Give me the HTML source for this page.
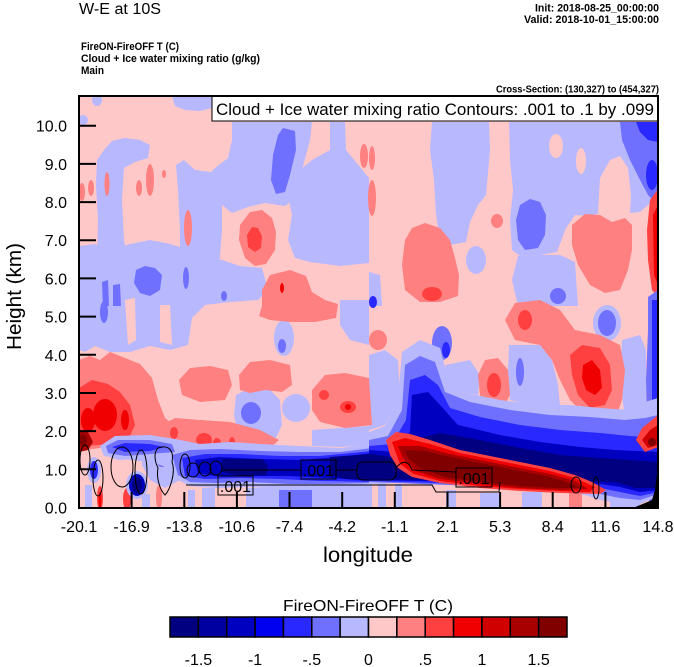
<!DOCTYPE html>
<html><head><meta charset="utf-8">
<style>
html,body{margin:0;padding:0;background:#fff;}
svg{display:block;}
text{font-family:"Liberation Sans",Arial,Helvetica,sans-serif;fill:#000;}
</style></head><body>
<svg width="674" height="667" viewBox="0 0 674 667" xmlns="http://www.w3.org/2000/svg">
<defs><clipPath id="pc"><rect x="79" y="96" width="579" height="412"/></clipPath></defs>

<!-- header texts -->
<text x="79" y="14" font-size="15.5" textLength="82" lengthAdjust="spacingAndGlyphs">W-E at 10S</text>
<text x="659" y="11.5" font-size="11" font-weight="bold" text-anchor="end" textLength="124" lengthAdjust="spacingAndGlyphs">Init: 2018-08-25_00:00:00</text>
<text x="659" y="23" font-size="11" font-weight="bold" text-anchor="end" textLength="135" lengthAdjust="spacingAndGlyphs">Valid: 2018-10-01_15:00:00</text>
<text x="81" y="50" font-size="11" font-weight="bold" textLength="98" lengthAdjust="spacingAndGlyphs">FireON-FireOFF T   (C)</text>
<text x="81" y="62" font-size="11" font-weight="bold" textLength="179" lengthAdjust="spacingAndGlyphs">Cloud + Ice water mixing ratio   (g/kg)</text>
<text x="81" y="74" font-size="11" font-weight="bold" textLength="23" lengthAdjust="spacingAndGlyphs">Main</text>
<text x="659" y="92.5" font-size="10" font-weight="bold" text-anchor="end" textLength="163" lengthAdjust="spacingAndGlyphs">Cross-Section: (130,327) to (454,327)</text>

<g clip-path="url(#pc)">
<rect x="79" y="96" width="579" height="412" fill="#ffc8c8"/>

<!-- light blue regions -->
<g fill="#b8b8ff">
<ellipse cx="97" cy="100" rx="5" ry="6"/>
<polygon points="172,96 212,96 212,108 200,111 185,110 175,106"/>
<ellipse cx="83" cy="120" rx="5" ry="5"/>
<polygon points="97,160 104,150 112,141 125,138 140,140 150,145 148,158 135,162 124,168 122,200 124,240 128,262 97,262 98,220 96,185"/>
<polygon points="176,165 184,160 195,170 210,172 222,180 222,230 219,269 200,272 180,268 180,230 178,190"/>
<polygon points="232,122 312,122 310,140 302,170 296,198 285,206 265,203 248,207 232,213 222,205 215,190 205,178 215,168 228,158 232,140"/>
<polygon points="286,176 300,170 312,160 330,150 330,122 345,122 346,150 369,178 369,263 340,266 310,262 295,258 288,240 292,215 288,195"/>
<polygon points="79,246 95,244 110,250 130,244 150,240 170,244 190,250 205,258 222,260 240,266 262,268 268,290 258,300 230,302 205,305 192,318 188,345 170,350 150,346 130,352 110,352 95,346 85,352 79,350"/>
<ellipse cx="284" cy="338" rx="10" ry="18"/>
<polygon points="340,300 369,300 369,345 350,340 340,325"/>
<polygon points="432,122 489,122 490,150 486,195 478,205 470,222 466,242 450,245 440,240 436,215 434,180 430,150"/>
<polygon points="509,122 658,122 658,200 648,205 640,212 632,213 620,212 600,213 590,216 575,215 566,228 557,252 540,255 520,256 512,250 510,220 513,190 510,160"/>
<polygon points="518,256 540,255 560,255 575,262 578,306 518,306 512,280"/>
<ellipse cx="476" cy="260" rx="10" ry="14"/>
<polygon points="369,272 380,275 382,306 369,306"/>
<ellipse cx="607" cy="323" rx="14" ry="18"/>
<polygon points="445,365 470,360 480,375 478,395 462,392 448,380"/>
<polygon points="509,345 540,345 552,360 558,385 560,405 530,405 510,400 508,370"/>
<polygon points="622,340 640,335 646,350 646,415 625,418 620,380"/>
<polygon points="369,355 385,350 398,360 400,395 385,425 369,430"/>
<polygon points="236,395 250,388 270,390 280,400 282,425 275,440 255,442 238,435 234,415"/>
<ellipse cx="296" cy="408" rx="14" ry="14"/>
<polygon points="312,430 340,428 369,426 369,445 340,447 312,446"/>
<!-- bottom strip -->
<polygon points="246,488 372,484 372,508 246,508"/>
<rect x="202" y="488" width="13" height="20"/>
<rect x="188" y="490" width="7" height="18"/>
<rect x="85" y="485" width="7" height="23"/>
<rect x="142" y="494" width="8" height="14"/>
<rect x="378" y="484" width="8" height="24"/>
<rect x="395" y="484" width="7" height="24"/>
<rect x="446" y="490" width="10" height="18"/>
<rect x="480" y="493" width="20" height="15"/>
<rect x="522" y="492" width="20" height="16"/>
<rect x="610" y="500" width="30" height="8"/>
</g>

<!-- pink streaks -->
<g fill="#ffc8c8">
<ellipse cx="556" cy="146" rx="7" ry="12"/>
<ellipse cx="581" cy="161" rx="5" ry="13"/>
<polygon points="598,213 600,178 610,160 620,156 628,168 631,195 630,213"/>
<polygon points="125,300 135,298 136,340 128,345"/>
<polygon points="160,305 170,305 172,345 160,342"/>
</g>

<!-- medium blue -->
<g fill="#7070ff">
<polygon points="283,128 295,131 296,150 290,175 285,192 276,194 271,180 273,155 278,135"/>
<polygon points="136,270 145,266 155,268 162,275 160,290 150,296 140,293 134,283"/>
<polygon points="102,282 108,280 109,306 103,306"/>
<polygon points="113,285 120,284 121,306 113,306"/>
<ellipse cx="186" cy="278" rx="3" ry="11"/>
<ellipse cx="224" cy="296" rx="3" ry="5"/>
<ellipse cx="104" cy="312" rx="4" ry="11"/>
<polygon points="620,122 658,122 658,205 648,195 640,180 630,160 622,140"/>
<polygon points="520,205 530,199 540,202 546,215 545,235 538,248 525,250 518,240 516,220"/>
<ellipse cx="558" cy="296" rx="8" ry="8"/>
<ellipse cx="442" cy="343" rx="10" ry="17"/>
<ellipse cx="607" cy="323" rx="9" ry="13"/>
<ellipse cx="282" cy="346" rx="4" ry="7"/>
<ellipse cx="251" cy="413" rx="10" ry="11"/>
<ellipse cx="520" cy="372" rx="4" ry="14"/>
<polygon points="279,490 312,490 312,508 279,508"/>
</g>
<g fill="#2828ff">
<polygon points="636,122 658,122 658,142 648,140 640,132"/>
<ellipse cx="652" cy="175" rx="6" ry="15"/>
<ellipse cx="446" cy="350" rx="4" ry="8"/>
<ellipse cx="373" cy="302" rx="4" ry="6"/>
</g>

<!-- salmon / reds upper -->
<g fill="#ff8080">
<polygon points="240,225 250,212 262,210 272,218 276,232 275,250 266,264 255,266 245,258 239,240"/>
<polygon points="262,306 262,290 270,275 290,270 306,276 312,292 325,300 338,304 336,318 315,322 290,322 270,320 259,316"/>
<ellipse cx="82" cy="192" rx="3" ry="9"/>
<ellipse cx="91" cy="188" rx="3" ry="8"/>
<ellipse cx="107" cy="184" rx="2.5" ry="12"/>
<ellipse cx="139" cy="188" rx="3" ry="8"/>
<ellipse cx="150" cy="180" rx="4" ry="16"/>
<ellipse cx="164" cy="174" rx="2" ry="4"/>
<ellipse cx="188" cy="228" rx="4" ry="18"/>
<ellipse cx="364" cy="156" rx="4" ry="12"/>
<ellipse cx="372" cy="158" rx="3" ry="12"/>
<ellipse cx="372" cy="198" rx="4" ry="18"/>
<ellipse cx="497" cy="221" rx="6" ry="7"/>
<polygon points="405,240 412,228 425,223 440,228 450,240 455,258 459,275 458,296 440,302 420,302 405,290 402,265"/>
<polygon points="572,225 585,214 600,215 612,222 625,218 632,225 632,250 628,270 620,290 605,293 590,285 578,265 572,245"/>
<polygon points="505,320 515,303 540,300 560,310 575,330 600,335 620,345 625,370 622,400 615,420 600,425 585,415 570,400 560,380 552,360 540,345 515,340"/>
<polygon points="478,375 485,360 498,358 508,370 510,395 503,408 488,408 480,395"/>
<ellipse cx="378" cy="340" rx="9" ry="10"/>
<!-- lower-left salmon -->
<polygon points="239,375 250,362 270,360 290,365 292,385 282,392 265,390 250,393 240,390"/>
<polygon points="179,380 190,368 210,366 228,370 232,385 225,400 200,402 182,395"/>
<polygon points="162,425 175,418 200,420 230,422 260,430 279,440 270,448 240,450 200,448 170,446 162,438"/>
<polygon points="312,390 325,375 345,373 369,378 372,425 345,428 320,422 312,410"/>
<polygon points="79,360 90,356 100,360 110,352 125,358 140,364 152,378 158,400 165,418 180,430 175,440 150,444 120,446 100,448 85,450 79,450"/>
<ellipse cx="159" cy="497" rx="3" ry="12"/>
<rect x="569" y="493" width="13" height="15"/>
</g>
<g fill="#ff4040">
<polygon points="247,235 252,227 258,228 262,236 261,248 255,252 248,247"/>
<ellipse cx="432" cy="294" rx="10" ry="7"/>
<ellipse cx="525" cy="320" rx="7" ry="10"/>
<polygon points="570,355 582,345 600,348 610,365 612,390 605,405 590,408 578,395 572,375"/>
<ellipse cx="494" cy="385" rx="7" ry="12"/>
<ellipse cx="204" cy="440" rx="8" ry="7"/>
<ellipse cx="217" cy="443" rx="4" ry="5"/>
<ellipse cx="232" cy="442" rx="3" ry="5"/>
<ellipse cx="174" cy="433" rx="4" ry="6"/>
<ellipse cx="324" cy="395" rx="5" ry="5"/>
<ellipse cx="348" cy="407" rx="8" ry="6"/>
<polygon points="79,388 92,380 108,384 120,392 130,405 135,425 128,440 100,445 79,446"/>
<ellipse cx="100" cy="498" rx="3" ry="12"/>
<ellipse cx="127" cy="499" rx="4" ry="11"/>
<polygon points="650,200 656,192 658,188 658,297 652,290 648,260 647,230"/>
</g>
<g fill="#f00000">
<ellipse cx="282" cy="288" rx="2" ry="5"/>
<polygon points="583,365 592,360 600,370 602,388 595,395 586,390 582,378"/>
<ellipse cx="348" cy="407" rx="3" ry="3"/>
<ellipse cx="105" cy="415" rx="12" ry="16"/>
<ellipse cx="88" cy="420" rx="7" ry="12"/>
<ellipse cx="125" cy="420" rx="4" ry="10"/>
<ellipse cx="100" cy="500" rx="1.5" ry="8"/>
<polygon points="653,215 658,205 658,285 654,275"/>
</g>
<polygon points="79,430 88,432 93,442 88,450 79,452" fill="#a80000"/>
<ellipse cx="83" cy="440" rx="4" ry="6" fill="#800000"/>

<!-- right edge blue strip -->
<polygon points="648,297 658,290 658,508 650,508 646,470 647,430 646,380 648,330" fill="#7070ff"/>
<polygon points="652,300 658,300 658,470 652,460" fill="#2828ff"/>

<!-- left blue blobs -->
<ellipse cx="121" cy="450" rx="14" ry="10" fill="#b8b8ff"/>
<ellipse cx="94" cy="470" rx="7" ry="13" fill="#b8b8ff"/>
<ellipse cx="94" cy="470" rx="4" ry="9" fill="#2828ff"/>
<ellipse cx="137" cy="485" rx="11" ry="14" fill="#b8b8ff"/>
<ellipse cx="137" cy="485" rx="8" ry="11" fill="#0000c0"/>
<ellipse cx="137" cy="485" rx="5" ry="8" fill="#000080"/>
<polygon points="140,440 178,440 180,480 165,488 150,480 142,465" fill="#b8b8ff"/>
<ellipse cx="162" cy="460" rx="6" ry="7" fill="#7070ff"/>

<!-- left blue band -->
<polygon fill="#b8b8ff" points="100,446 115,436 150,435 175,439 200,444 230,442 260,444 300,446 340,448 372,444 372,484 330,486 290,488 250,487 215,488 190,486 178,480 170,468 150,462 130,460 104,456"/>
<polygon fill="#7070ff" points="106,446 118,440 150,440 172,444 175,452 150,454 125,456 108,453"/>
<polygon fill="#2828ff" points="112,447 125,443 150,444 165,447 150,451 125,452"/>
<polygon fill="#7070ff" points="172,455 190,450 220,449 260,451 300,452 340,452 372,448 372,483 330,484 290,484 250,482 215,483 190,482 178,475"/>
<polygon fill="#2828ff" points="182,458 205,454 240,454 280,456 320,456 372,451 372,482 320,481 280,479 240,478 205,479 185,476"/>
<polygon fill="#0000c0" points="195,460 220,457 260,459 300,460 340,457 372,453 372,481 330,478 290,476 250,476 215,476 198,473"/>
<polygon fill="#000080" points="222,459 262,459 268,466 266,475 240,476 222,472"/>
<polygon fill="#000080" points="330,457 372,454 372,480 345,479 330,474"/>

<!-- right blue band -->
<polygon fill="#b8b8ff" points="369,432 385,426 398,398 402,352 420,340 440,348 448,378 462,392 500,400 540,405 570,405 600,408 630,410 645,402 658,398 658,496 645,502 635,506 620,503 600,500 585,495 560,490 480,486 420,480 400,482 385,484 369,484"/>
<polygon fill="#7070ff" points="369,440 388,436 402,410 405,365 420,356 435,362 445,392 470,402 510,410 550,415 590,417 625,420 645,418 658,415 658,494 640,500 620,498 600,494 580,490 369,482"/>
<polygon fill="#2828ff" points="369,446 392,444 406,420 410,380 425,375 438,385 450,408 480,417 520,425 560,430 600,433 630,436 658,438 658,492 640,496 620,492 600,488 369,481"/>
<polygon fill="#0000c0" points="369,450 395,452 410,432 412,395 428,392 440,405 458,425 500,435 540,442 580,447 615,450 658,452 658,490 640,492 620,487 600,484 369,480"/>
<polygon fill="#000080" points="369,454 398,458 412,440 440,433 480,440 520,448 560,455 600,458 630,460 658,462 658,488 636,488 615,482 369,479"/>

<!-- red band -->
<polygon fill="#ff4040" points="386,440 396,432 410,434 430,440 460,450 490,456 520,462 550,468 575,475 592,482 606,490 600,494 560,493 520,491 480,488 440,483 412,477 398,468 390,455"/>
<polygon fill="#f00000" points="392,442 405,438 430,444 460,453 490,459 520,465 550,471 575,478 595,487 590,492 560,491 520,489 480,486 440,481 414,474 400,464"/>
<polygon fill="#a80000" points="398,446 420,446 450,454 490,462 520,468 550,474 575,481 588,489 560,490 520,488 480,484 440,479 416,471 404,460"/>
<polygon fill="#800000" points="405,450 425,451 455,458 490,465 520,471 550,477 572,484 580,488 555,488 520,486 480,482 445,477 420,468 408,458"/>

<!-- right red blob -->
<polygon fill="#ff4040" points="636,440 642,428 652,420 658,415 658,447 645,452"/>
<polygon fill="#d00000" points="642,440 650,430 658,425 658,445 648,448"/>
<ellipse cx="652" cy="442" rx="4" ry="4" fill="#800000"/>

<!-- terrain -->
<polygon fill="#000" points="633,508 645,503 652,500 655,490 658,465 658,508"/>

<!-- contour lines -->
<g fill="none" stroke="#000" stroke-width="1">
<ellipse cx="85" cy="460" rx="5" ry="15"/>
<ellipse cx="98" cy="478" rx="5" ry="18"/>
<ellipse cx="122" cy="467" rx="11" ry="20"/>
<ellipse cx="141" cy="472" rx="6" ry="22"/>
<path d="M158,448 C170,444 174,452 172,462 C176,472 170,490 165,495 C160,490 156,478 158,468 C154,460 154,452 158,448 Z"/>
<ellipse cx="185" cy="466" rx="5" ry="12"/>
<ellipse cx="193" cy="470" rx="6" ry="7"/>
<ellipse cx="205" cy="469" rx="6" ry="7"/>
<ellipse cx="216" cy="468" rx="6" ry="7"/>
<path d="M222,470 L301,470 M336,470 L357,470"/>
<rect x="357" y="462" width="39" height="18" rx="6"/>
<path d="M396,468 C402,460 408,460 412,470 L456,472"/>
<path d="M186,485 L369,485 L432,485 L436,492 L499,492 L500,482"/>
<ellipse cx="576" cy="485" rx="5" ry="8"/>
<ellipse cx="596" cy="488" rx="3" ry="11"/>
<rect x="218" y="476" width="35" height="19"/>
<rect x="301" y="460" width="35" height="19"/>
<rect x="456" y="468" width="36" height="19"/>
</g>
<text x="235.5" y="492" font-size="16" text-anchor="middle">.001</text>
<text x="318.5" y="476" font-size="16" text-anchor="middle">.001</text>
<text x="474" y="484" font-size="16" text-anchor="middle">.001</text>
</g>

<!-- legend box -->
<rect x="212" y="96" width="446" height="25" fill="#fff" stroke="#000" stroke-width="1"/>
<text x="216" y="115" font-size="17" textLength="438" lengthAdjust="spacingAndGlyphs">Cloud + Ice water mixing ratio Contours: .001 to .1 by .099</text>

<!-- border -->
<rect x="79" y="96" width="579" height="412" fill="none" stroke="#000" stroke-width="2"/>

<!-- ticks -->
<g stroke="#000" stroke-width="2">
<line x1="79" y1="469.3" x2="96" y2="469.3"/>
<line x1="79" y1="431.1" x2="96" y2="431.1"/>
<line x1="79" y1="393" x2="96" y2="393"/>
<line x1="79" y1="354.8" x2="96" y2="354.8"/>
<line x1="79" y1="316.6" x2="96" y2="316.6"/>
<line x1="79" y1="278.4" x2="96" y2="278.4"/>
<line x1="79" y1="240.2" x2="96" y2="240.2"/>
<line x1="79" y1="202.1" x2="96" y2="202.1"/>
<line x1="79" y1="163.9" x2="96" y2="163.9"/>
<line x1="79" y1="125.7" x2="96" y2="125.7"/>
<line x1="131.6" y1="508" x2="131.6" y2="492"/>
<line x1="184.3" y1="508" x2="184.3" y2="492"/>
<line x1="236.9" y1="508" x2="236.9" y2="492"/>
<line x1="289.5" y1="508" x2="289.5" y2="492"/>
<line x1="342.2" y1="508" x2="342.2" y2="492"/>
<line x1="394.8" y1="508" x2="394.8" y2="492"/>
<line x1="447.5" y1="508" x2="447.5" y2="492"/>
<line x1="500.1" y1="508" x2="500.1" y2="492"/>
<line x1="552.7" y1="508" x2="552.7" y2="492"/>
<line x1="605.4" y1="508" x2="605.4" y2="492"/>
</g>
<g font-size="16" text-anchor="end">
<text x="67" y="513.5">0.0</text>
<text x="67" y="475.3">1.0</text>
<text x="67" y="437.1">2.0</text>
<text x="67" y="399">3.0</text>
<text x="67" y="360.8">4.0</text>
<text x="67" y="322.6">5.0</text>
<text x="67" y="284.4">6.0</text>
<text x="67" y="246.2">7.0</text>
<text x="67" y="208.1">8.0</text>
<text x="67" y="169.9">9.0</text>
<text x="67" y="131.7">10.0</text>
</g>
<g font-size="16" text-anchor="middle">
<text x="79" y="532">-20.1</text>
<text x="131.6" y="532">-16.9</text>
<text x="184.3" y="532">-13.8</text>
<text x="236.9" y="532">-10.6</text>
<text x="289.5" y="532">-7.4</text>
<text x="342.2" y="532">-4.2</text>
<text x="394.8" y="532">-1.1</text>
<text x="447.5" y="532">2.1</text>
<text x="500.1" y="532">5.3</text>
<text x="552.7" y="532">8.4</text>
<text x="605.4" y="532">11.6</text>
<text x="658" y="532">14.8</text>
</g>
<text x="368" y="562" font-size="21" text-anchor="middle" textLength="90" lengthAdjust="spacingAndGlyphs">longitude</text>
<text transform="translate(21,296.5) rotate(-90)" font-size="20.5" text-anchor="middle" textLength="107" lengthAdjust="spacingAndGlyphs">Height (km)</text>

<!-- colorbar -->
<text x="368" y="611" font-size="16" text-anchor="middle" textLength="170" lengthAdjust="spacingAndGlyphs">FireON-FireOFF T  (C)</text>
<g stroke="#000" stroke-width="1.5">
<rect x="170" y="617" width="28.36" height="20" fill="#000080"/>
<rect x="198.36" y="617" width="28.36" height="20" fill="#0000a0"/>
<rect x="226.71" y="617" width="28.36" height="20" fill="#0000c0"/>
<rect x="255.07" y="617" width="28.36" height="20" fill="#0000f0"/>
<rect x="283.43" y="617" width="28.36" height="20" fill="#2828ff"/>
<rect x="311.79" y="617" width="28.36" height="20" fill="#7070ff"/>
<rect x="340.14" y="617" width="28.36" height="20" fill="#b8b8ff"/>
<rect x="368.5" y="617" width="28.36" height="20" fill="#ffc8c8"/>
<rect x="396.86" y="617" width="28.36" height="20" fill="#ff8080"/>
<rect x="425.21" y="617" width="28.36" height="20" fill="#ff4040"/>
<rect x="453.57" y="617" width="28.36" height="20" fill="#f00000"/>
<rect x="481.93" y="617" width="28.36" height="20" fill="#d00000"/>
<rect x="510.29" y="617" width="28.36" height="20" fill="#a80000"/>
<rect x="538.64" y="617" width="28.36" height="20" fill="#800000"/>
</g>
<g font-size="16" text-anchor="middle">
<text x="198.4" y="665">-1.5</text>
<text x="255.1" y="665">-1</text>
<text x="311.8" y="665">-.5</text>
<text x="368.5" y="665">0</text>
<text x="425.2" y="665">.5</text>
<text x="481.9" y="665">1</text>
<text x="538.6" y="665">1.5</text>
</g>
</svg>
</body></html>
